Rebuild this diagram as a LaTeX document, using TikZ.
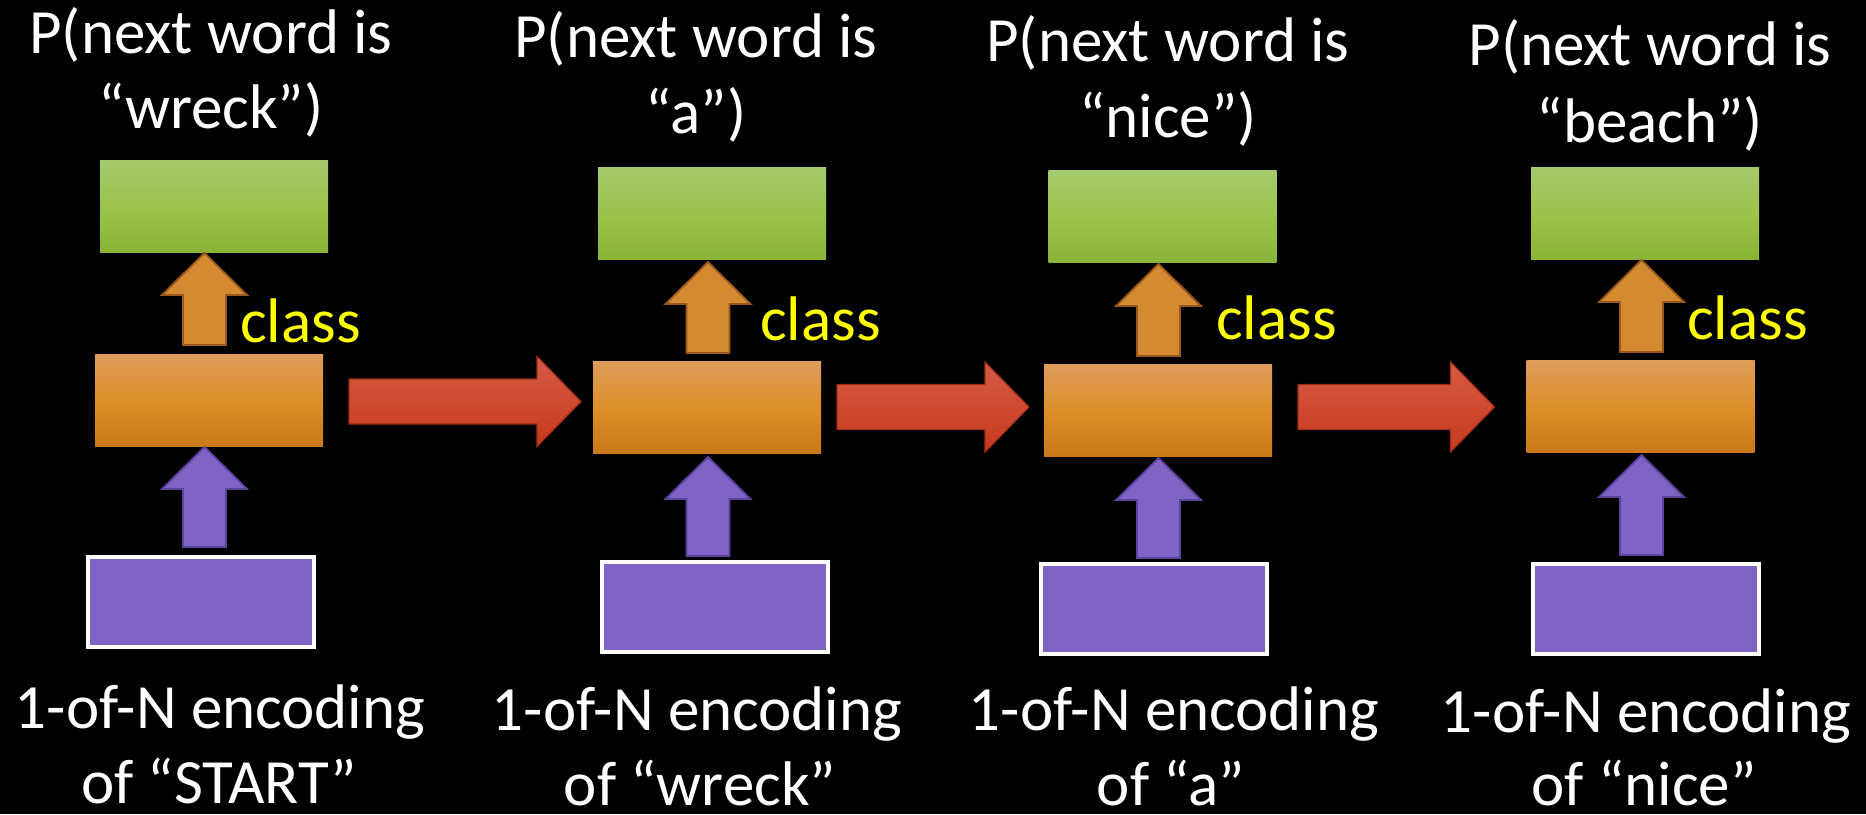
\documentclass[tikz,border=0pt]{standalone}
\usepackage{fontspec}
\setmainfont{Carlito}
\definecolor{grnT}{HTML}{A6C96C}
\definecolor{grnM}{HTML}{9CC34B}
\definecolor{grnB}{HTML}{89B437}
\definecolor{orgT}{HTML}{DE9C5B}
\definecolor{orgM}{HTML}{DD8F2A}
\definecolor{orgB}{HTML}{C9791A}
\definecolor{orgA}{HTML}{D48A30}
\definecolor{orgD}{HTML}{98581E}
\definecolor{redT}{HTML}{D65B44}
\definecolor{redB}{HTML}{C8391E}
\definecolor{redD}{HTML}{9E2E1A}
\definecolor{purF}{HTML}{7F63C5}
\definecolor{purD}{HTML}{5B43A0}
\definecolor{clsY}{HTML}{FFFF00}
% vertical block arrow: #1 centre x, #2 tip y, #3 bottom y, #4 style
\newcommand\vblock[4]{%
  \filldraw[#4] (#1,#2) -- (#1+42.5,#2+42) -- (#1+21.5,#2+42) -- (#1+21.5,#3)
    -- (#1-21.5,#3) -- (#1-21.5,#2+42) -- (#1-42.5,#2+42) -- cycle;}
% horizontal block arrow: #1 left x, #2 tip x, #3 centre y
\newcommand\hblock[3]{%
  \shadedraw[redarr] (#1,#3-22.5) -- (#2-44,#3-22.5) -- (#2-44,#3-45) -- (#2,#3)
    -- (#2-44,#3+45) -- (#2-44,#3+22.5) -- (#1,#3+22.5) -- cycle;}
\begin{document}
\begin{tikzpicture}[x=1pt,y=-1pt,
  lbl/.style={text=white,font=\fontsize{63}{75}\selectfont,anchor=base,inner sep=0pt},
  lblb/.style={lbl,text depth=0pt},
  cls/.style={text=clsY,font=\fontsize{63}{75}\selectfont,anchor=base west,inner sep=0pt},
  gbox/.style={minimum width=228pt,minimum height=92pt,inner sep=0pt,outer sep=0pt,
    top color=grnT,bottom color=grnB,middle color=grnM},
  obox/.style={minimum width=228pt,minimum height=92pt,inner sep=0pt,outer sep=0pt,
    top color=orgT,bottom color=orgB,middle color=orgM},
  pbox/.style={minimum width=226pt,minimum height=90pt,inner sep=0pt,outer sep=0pt,
    fill=purF,draw=white,line width=4pt},
  oarr/.style={fill=orgA,draw=orgD,line width=1.8pt,line join=miter},
  parr/.style={fill=purF,draw=purD,line width=1.8pt,line join=miter},
  redarr/.style={top color=redT,bottom color=redB,draw=redD,line width=1.2pt,line join=miter}]
\fill[black] (0,0) rectangle (1866,814);
\useasboundingbox (0,0) rectangle (1866,814);

% column 1
\node[gbox] (g1) at (214,206) {};
\node[obox] (o1) at (209,400) {};
\node[pbox] (p1) at (201,602) {};
\vblock{204.5}{253}{345}{oarr}
\vblock{204.5}{447}{547}{parr}
\node[cls] (c1) at (240,342) {class};
\node[lbl] (t1a) at (211,53) {P(next word is};
\node[lbl] (t1b) at (211,128) {“wreck”)};
\node[lbl] (b1a) at (220,728) {1-of-N encoding};
\node[lblb] (b1b) at (219,803) {of “START”};

% column 2
\node[gbox] (g2) at (712,213.5) {};
\node[obox] (o2) at (707,407) {};
\node[pbox] (p2) at (715,606.5) {};
\vblock{708}{262}{353}{oarr}
\vblock{708}{457}{556}{parr}
\node[cls] (c2) at (760,340) {class};
\node[lbl] (t2a) at (696,57) {P(next word is};
\node[lbl] (t2b) at (696,133) {“a”)};
\node[lbl] (b2a) at (697,730) {1-of-N encoding};
\node[lblb] (b2b) at (700,805) {of “wreck”};

% column 3
\node[gbox] (g3) at (1162.5,216.5) {};
\node[obox] (o3) at (1158,410) {};
\node[pbox] (p3) at (1154,609) {};
\vblock{1158.5}{264}{356}{oarr}
\vblock{1158.5}{458}{558}{parr}
\node[cls] (c3) at (1216,339) {class};
\node[lbl] (t3a) at (1168,61) {P(next word is};
\node[lbl] (t3b) at (1168,137) {“nice”)};
\node[lbl] (b3a) at (1174,730) {1-of-N encoding};
\node[lblb] (b3b) at (1171,805) {of “a”};

% column 4
\node[gbox] (g4) at (1645,213) {};
\node[obox] (o4) at (1640.5,406.5) {};
\node[pbox] (p4) at (1645.5,609) {};
\vblock{1641.5}{260}{352}{oarr}
\vblock{1641.5}{455}{555}{parr}
\node[cls] (c4) at (1687,339) {class};
\node[lbl] (t4a) at (1650,65) {P(next word is};
\node[lbl] (t4b) at (1650,142) {“beach”)};
\node[lbl] (b4a) at (1646,732) {1-of-N encoding};
\node[lblb] (b4b) at (1644,805) {of “nice”};

% recurrent arrows
\hblock{349}{581}{401.5}
\hblock{837}{1029}{407}
\hblock{1298}{1494.5}{407}
\end{tikzpicture}
\end{document}
